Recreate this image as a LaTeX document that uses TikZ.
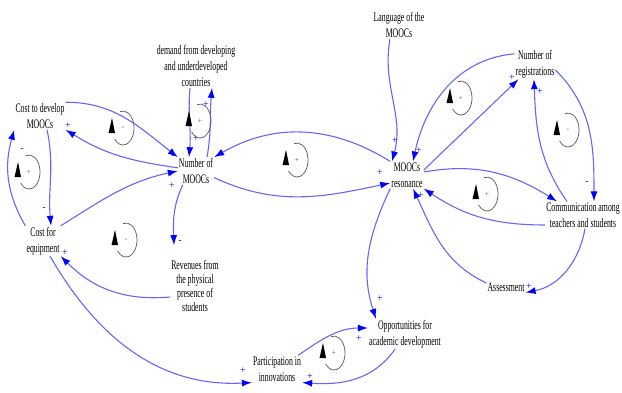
\documentclass[tikz,border=0pt]{standalone}
\usepackage{fontspec}
\setmainfont[FakeStretch=0.6]{Liberation Serif}
\newfontfamily\signfont{Liberation Serif}
\usetikzlibrary{calc,arrows.meta}
\def\loopmark[#1](#2)#3{%
	\draw[loopline] ($(#2)+(105:11 and 17)$) arc (105:-140:11 and 17);
	\fill[black] ($(#2)+(-11,10)$) -- ($(#2)+(-14.5,-5)$) -- ($(#2)+(-8,-5)$) -- cycle;
	\node[loopsign] (#1) at (#2) {#3};}

\begin{document}
\begin{tikzpicture}[x=1pt,y=1pt,
	var/.style={align=center,inner sep=1pt,text=black,font=\fontsize{13}{16}\selectfont},
	link/.style={draw=blue!60,line width=1.1pt,-{Latex[length=10pt,width=7pt,color=blue]}},
	sgn/.style={inner sep=0pt,text=blue,font=\signfont\fontsize{10}{10}\selectfont},
	loopline/.style={draw=black!60,line width=0.8pt},
	loopsign/.style={inner sep=0pt,text=black!60,font=\signfont\fontsize{8}{8}\selectfont}]
				\useasboundingbox (0,0) rectangle (622,392);
				
				\node[var] (costdev) at (40,276) {Cost to develop\\MOOCs};
				\node[var] (costeq) at (43,151) {Cost for\\equipment};
				\node[var] (demand) at (196,326) {demand from developing\\and underdeveloped\\countries};
				\node[var] (nummoocs) at (196,221) {Number of\\MOOCs};
				\node[var,font=\fontsize{13}{14}\selectfont] (revenues) at (195,106) {Revenues from\\the physical\\presence of\\students};
				\node[var] (language) at (399,367) {Language of the\\MOOCs};
				\node[var] (resonance) at (407,217) {MOOCs\\resonance};
				\node[var] (numreg) at (535,328) {Number of\\registrations};
				\node[var] (comm) at (583,177) {Communication among\\teachers and students};
				\node[var] (assessment) at (506,105) {Assessment};
				\node[var] (opportunities) at (405,58) {Opportunities for\\academic development};
				\node[var] (participation) at (277,23) {Participation in\\innovations};
				
				\draw[link] (costdev.north east) to[out=0,in=142] (nummoocs.north west);
				\draw[link] (nummoocs.170) to[out=172,in=-32] (costdev.south east);
				\draw[link] ([xshift=7pt]costdev.south) to[out=-78,in=95] ([xshift=8pt]costeq.north);
				\draw[link] (costeq.north west) to[out=120,in=-106] (costdev.south west);
				\draw[link] (costeq.north east) to[out=32,in=192] (nummoocs.west);
				\draw[link] ([xshift=5pt]nummoocs.south west) to[out=-115,in=92] ([xshift=-21pt,yshift=14pt]revenues.north);
				\draw[link] ([yshift=-11pt]revenues.west) to[out=185,in=-45] (costeq.south east);
				\draw[link] ([xshift=-6pt]demand.south) to[out=-95,in=85] ([xshift=-7pt]nummoocs.north);
				\draw[link] ([xshift=11pt]nummoocs.north) to[out=80,in=-95] ([xshift=16pt]demand.south);
				\draw[link] (resonance.north west) to[out=148,in=30] (nummoocs.north east);
				\draw[link] (nummoocs.-20) to[out=-25,in=192] ([yshift=-8pt]resonance.west);
				\draw[link] ([xshift=-9pt]language.south) to[out=-100,in=75] ([xshift=-15pt]resonance.north);
				\draw[link] ([yshift=-5pt]numreg.north west) to[out=185,in=78] ([xshift=6pt]resonance.north);
				\draw[link] ([yshift=5pt]resonance.east) -- ([xshift=4pt]numreg.south west);
				\draw[link] ([yshift=-6pt]numreg.east) to[out=-45,in=90] ([xshift=11pt]comm.north);
				\draw[link] ([xshift=-16pt]comm.north) to[out=125,in=-88] ([xshift=-1pt]numreg.south);
				\draw[link] ([yshift=3pt]resonance.east) to[out=10,in=148] ([xshift=12pt]comm.north west);
				\draw[link] ([yshift=-10pt]comm.west) to[out=180,in=-34] (resonance.south east);
				\draw[link] ([xshift=2pt]comm.south) to[out=-100,in=11] (assessment.south east);
				\draw[link] ([yshift=4pt]assessment.west) to[out=155,in=-65] ([xshift=6pt]resonance.south);
				\draw[link] (resonance.south west) to[out=-115,in=108] ([xshift=8pt]opportunities.north west);
				\draw[link] ([xshift=-10pt]opportunities.south) to[out=-125,in=-4] (participation.south east);
				\draw[link] ([xshift=-4pt]participation.north east) to[out=35,in=180] ([yshift=6pt]opportunities.west);
				\draw[link] ([xshift=7pt]costeq.south) to[out=-60,in=183] (participation.south west);
				
				\foreach \x/\y/\s [count=\i] in {173/235/-,68/266/+,44/183/-,22/242/-,172/206/+,180/150/-,65/139/+,196/253/+,206/287/+,380/219/+,395/251/+,419/241/+,512/314/+,587/209/-,540/300/+,421/196/+,529/105/+,380/93/+,310/15/+,359/53/+,243/21/+}
					\node[sgn] (sign\i) at (\x,\y) {\s};
				
				\loopmark[loopA](123,264){-}
				\loopmark[loopB](29,220){+}
				\loopmark[loopC](200,271){+}
				\loopmark[loopD](126,152){-}
				\loopmark[loopE](297,232){+}
				\loopmark[loopF](461,294){+}
				\loopmark[loopG](568,262){-}
				\loopmark[loopH](487,198){+}
				\loopmark[loopI](334,39){+}
			\end{tikzpicture}
\end{document}
